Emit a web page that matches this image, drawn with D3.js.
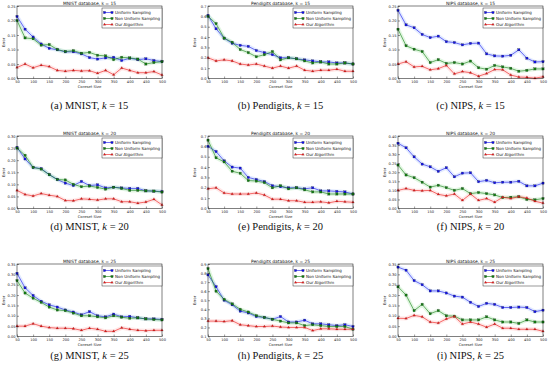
<!DOCTYPE html>
<html>
<head>
<meta charset="utf-8">
<script src="https://cdn.jsdelivr.net/npm/d3@7"></script>
<style>
  html, body { margin: 0; padding: 0; background: #fff; }
  svg { display: block; }
</style>
</head>
<body>
<svg id="chart" width="550" height="371"></svg>
<script>
// coreset sizes on the x axis
const coresetSizes = [50, 75, 100, 125, 150, 175, 200, 225, 250, 275, 300, 325, 350, 375, 400, 425, 450, 475, 500];
const xTicks = [50, 100, 150, 200, 250, 300, 350, 400, 450, 500];
const seriesNames = ["Uniform Sampling", "Non Uniform Sampling", "Our Algorithm"];

// MNIST
const mnist15Uniform = [0.214, 0.170, 0.143, 0.119, 0.104, 0.099, 0.092, 0.092, 0.085, 0.072, 0.067, 0.071, 0.073, 0.062, 0.070, 0.065, 0.068, 0.062, 0.058];
const mnist15NonUniform = [0.200, 0.140, 0.137, 0.115, 0.117, 0.100, 0.093, 0.096, 0.087, 0.090, 0.080, 0.078, 0.065, 0.073, 0.071, 0.067, 0.050, 0.055, 0.058];
const mnist15Ours = [0.038, 0.050, 0.037, 0.046, 0.041, 0.028, 0.025, 0.028, 0.026, 0.027, 0.018, 0.028, 0.013, 0.036, 0.028, 0.020, 0.020, 0.024, 0.012];

const mnist20Uniform = [0.253, 0.205, 0.170, 0.165, 0.140, 0.120, 0.105, 0.095, 0.112, 0.095, 0.098, 0.085, 0.088, 0.085, 0.083, 0.083, 0.073, 0.072, 0.070];
const mnist20NonUniform = [0.250, 0.220, 0.170, 0.163, 0.140, 0.120, 0.118, 0.100, 0.090, 0.093, 0.087, 0.080, 0.088, 0.083, 0.075, 0.075, 0.073, 0.072, 0.068];
const mnist20Ours = [0.075, 0.058, 0.052, 0.062, 0.055, 0.050, 0.033, 0.032, 0.040, 0.038, 0.035, 0.040, 0.040, 0.028, 0.028, 0.022, 0.027, 0.038, 0.015];

const mnist25Uniform = [0.305, 0.235, 0.198, 0.170, 0.153, 0.142, 0.128, 0.118, 0.105, 0.120, 0.100, 0.095, 0.108, 0.095, 0.097, 0.090, 0.085, 0.085, 0.082];
const mnist25NonUniform = [0.270, 0.210, 0.185, 0.165, 0.142, 0.128, 0.125, 0.113, 0.100, 0.100, 0.095, 0.090, 0.100, 0.093, 0.088, 0.090, 0.085, 0.082, 0.080];
const mnist25Ours = [0.050, 0.050, 0.062, 0.050, 0.043, 0.040, 0.040, 0.038, 0.030, 0.040, 0.035, 0.025, 0.025, 0.042, 0.035, 0.030, 0.028, 0.030, 0.030];

// Pendigits
const pen15Uniform = [0.61, 0.48, 0.39, 0.34, 0.32, 0.31, 0.27, 0.25, 0.23, 0.20, 0.20, 0.19, 0.18, 0.17, 0.16, 0.16, 0.15, 0.15, 0.14];
const pen15NonUniform = [0.60, 0.53, 0.39, 0.35, 0.28, 0.25, 0.21, 0.23, 0.26, 0.18, 0.20, 0.19, 0.17, 0.15, 0.16, 0.14, 0.14, 0.15, 0.14];
const pen15Ours = [0.20, 0.17, 0.18, 0.17, 0.14, 0.13, 0.14, 0.12, 0.10, 0.12, 0.10, 0.12, 0.08, 0.07, 0.08, 0.08, 0.09, 0.07, 0.07];

const pen20Uniform = [0.60, 0.55, 0.46, 0.40, 0.39, 0.30, 0.28, 0.26, 0.22, 0.21, 0.20, 0.20, 0.19, 0.20, 0.17, 0.17, 0.165, 0.16, 0.14];
const pen20NonUniform = [0.66, 0.49, 0.45, 0.36, 0.34, 0.27, 0.265, 0.25, 0.20, 0.22, 0.19, 0.20, 0.18, 0.16, 0.16, 0.14, 0.14, 0.14, 0.14];
const pen20Ours = [0.19, 0.20, 0.15, 0.14, 0.14, 0.14, 0.15, 0.13, 0.09, 0.09, 0.075, 0.075, 0.06, 0.06, 0.065, 0.055, 0.07, 0.065, 0.06];

const pen25Uniform = [0.78, 0.65, 0.50, 0.45, 0.38, 0.36, 0.32, 0.31, 0.29, 0.32, 0.26, 0.26, 0.28, 0.24, 0.24, 0.23, 0.22, 0.23, 0.21];
const pen25NonUniform = [0.85, 0.60, 0.51, 0.46, 0.40, 0.37, 0.33, 0.31, 0.29, 0.27, 0.25, 0.25, 0.22, 0.23, 0.22, 0.21, 0.21, 0.21, 0.18];
const pen25Ours = [0.27, 0.27, 0.265, 0.275, 0.23, 0.22, 0.21, 0.21, 0.215, 0.205, 0.20, 0.20, 0.20, 0.165, 0.185, 0.185, 0.18, 0.18, 0.18];

// NIPS
const nips15Uniform = [0.235, 0.185, 0.175, 0.152, 0.141, 0.146, 0.127, 0.124, 0.116, 0.121, 0.122, 0.085, 0.078, 0.077, 0.080, 0.099, 0.070, 0.057, 0.058];
const nips15NonUniform = [0.170, 0.113, 0.101, 0.093, 0.055, 0.065, 0.052, 0.055, 0.050, 0.060, 0.037, 0.032, 0.045, 0.040, 0.035, 0.025, 0.028, 0.033, 0.033];
const nips15Ours = [0.050, 0.058, 0.040, 0.042, 0.030, 0.034, 0.045, 0.016, 0.024, 0.020, 0.008, 0.017, 0.031, 0.030, 0.012, 0.005, 0.004, 0.001, 0.006];

const nips20Uniform = [0.360, 0.335, 0.285, 0.245, 0.230, 0.205, 0.225, 0.175, 0.195, 0.197, 0.148, 0.155, 0.142, 0.145, 0.145, 0.150, 0.125, 0.125, 0.140];
const nips20NonUniform = [0.240, 0.185, 0.170, 0.145, 0.118, 0.128, 0.115, 0.100, 0.110, 0.082, 0.088, 0.082, 0.075, 0.060, 0.062, 0.065, 0.050, 0.048, 0.055];
const nips20Ours = [0.100, 0.110, 0.100, 0.098, 0.100, 0.078, 0.070, 0.080, 0.045, 0.080, 0.045, 0.055, 0.035, 0.062, 0.055, 0.065, 0.058, 0.040, 0.030];

const nips25Uniform = [0.335, 0.320, 0.270, 0.250, 0.220, 0.220, 0.210, 0.195, 0.190, 0.165, 0.145, 0.160, 0.155, 0.140, 0.140, 0.142, 0.140, 0.120, 0.127];
const nips25NonUniform = [0.240, 0.200, 0.125, 0.155, 0.110, 0.125, 0.100, 0.098, 0.080, 0.080, 0.080, 0.095, 0.080, 0.070, 0.070, 0.063, 0.080, 0.070, 0.070];
const nips25Ours = [0.088, 0.087, 0.102, 0.095, 0.070, 0.065, 0.085, 0.097, 0.060, 0.070, 0.060, 0.045, 0.060, 0.040, 0.040, 0.035, 0.035, 0.035, 0.025];

// y axis settings per panel
const yTicks005to25 = [0, 0.05, 0.10, 0.15, 0.20, 0.25];
const yTicks005to30 = [0, 0.05, 0.10, 0.15, 0.20, 0.25, 0.30];
const yTicks005to35 = [0, 0.05, 0.10, 0.15, 0.20, 0.25, 0.30, 0.35];
const yTicks005to40 = [0, 0.05, 0.10, 0.15, 0.20, 0.25, 0.30, 0.35, 0.40];
const yTicks01to07 = [0, 0.1, 0.2, 0.3, 0.4, 0.5, 0.6, 0.7];
const yTicks01to09 = [0.1, 0.2, 0.3, 0.4, 0.5, 0.6, 0.7, 0.8, 0.9];

const panels = [
  { tag: "a", db: "MNIST", k: 15, ticks: yTicks005to25, fmt: ".2f", series: [mnist15Uniform, mnist15NonUniform, mnist15Ours] },
  { tag: "b", db: "Pendigits", k: 15, ticks: yTicks01to07, fmt: ".1f", series: [pen15Uniform, pen15NonUniform, pen15Ours] },
  { tag: "c", db: "NIPS", k: 15, ticks: yTicks005to25, fmt: ".2f", series: [nips15Uniform, nips15NonUniform, nips15Ours] },
  { tag: "d", db: "MNIST", k: 20, ticks: yTicks005to30, fmt: ".2f", series: [mnist20Uniform, mnist20NonUniform, mnist20Ours] },
  { tag: "e", db: "Pendigits", k: 20, ticks: yTicks01to07, fmt: ".1f", series: [pen20Uniform, pen20NonUniform, pen20Ours] },
  { tag: "f", db: "NIPS", k: 20, ticks: yTicks005to40, fmt: ".2f", series: [nips20Uniform, nips20NonUniform, nips20Ours] },
  { tag: "g", db: "MNIST", k: 25, ticks: yTicks005to35, fmt: ".2f", series: [mnist25Uniform, mnist25NonUniform, mnist25Ours] },
  { tag: "h", db: "Pendigits", k: 25, ticks: yTicks01to09, fmt: ".1f", series: [pen25Uniform, pen25NonUniform, pen25Ours] },
  { tag: "i", db: "NIPS", k: 25, ticks: yTicks005to35, fmt: ".2f", series: [nips25Uniform, nips25NonUniform, nips25Ours] }
];

// layout of the 3x3 grid
const colLeft = [17, 208, 398];
const rowTop = [6, 136, 264];
const plotW = 145;
const plotH = 72.5;
const captionY = [108.5, 230, 358.5];

const colors = ["#1010ee", "#108010", "#ee1010"];
const bandColors = ["#9fb8ff", "#9fe09f", "#ffb3b3"];
const font = "'DejaVu Sans', sans-serif";

const svg = d3.select("#chart");

panels.forEach((p, i) => {
  const col = i % 3, row = Math.floor(i / 3);
  const g = svg.append("g").attr("transform", `translate(${colLeft[col]},${rowTop[row]})`);

  const x = d3.scaleLinear().domain([50, 500]).range([0, plotW]);
  const y = d3.scaleLinear().domain([p.ticks[0], p.ticks[p.ticks.length - 1]]).range([plotH, 0]);

  const line = d3.line().x((d, j) => x(coresetSizes[j])).y(d => y(d));

  // faint bands behind the lines
  p.series.forEach((s, si) => {
    g.append("path")
      .attr("d", line(s))
      .attr("fill", "none")
      .attr("stroke", bandColors[si])
      .attr("stroke-opacity", 0.3)
      .attr("stroke-width", 4)
      .attr("stroke-linejoin", "round");
  });

  // lines + markers
  p.series.forEach((s, si) => {
    g.append("path")
      .attr("d", line(s))
      .attr("fill", "none")
      .attr("stroke", colors[si])
      .attr("stroke-width", 0.6);

    const m = g.selectAll(null).data(s).enter();
    if (si < 2) {
      m.append("rect")
        .attr("x", (d, j) => x(coresetSizes[j]) - 1.1)
        .attr("y", d => y(d) - 1.1)
        .attr("width", 2.2).attr("height", 2.2)
        .attr("fill", colors[si])
        .attr("stroke", "#222").attr("stroke-width", 0.25);
    } else {
      m.append("path")
        .attr("d", d3.symbol().type(d3.symbolTriangle).size(3))
        .attr("transform", (d, j) => `translate(${x(coresetSizes[j])},${y(d)})`)
        .attr("fill", colors[si])
        .attr("stroke", "#444").attr("stroke-width", 0.2);
    }
  });

  // frame
  g.append("rect")
    .attr("width", plotW).attr("height", plotH)
    .attr("fill", "none").attr("stroke", "#000").attr("stroke-width", 0.5);

  // axes (ticks inside, like classic matplotlib)
  const xAxis = g.append("g").attr("transform", `translate(0,${plotH})`)
    .call(d3.axisBottom(x).tickValues(xTicks).tickSize(-2).tickPadding(1.5));
  const yAxis = g.append("g")
    .call(d3.axisLeft(y).tickValues(p.ticks).tickFormat(d3.format(p.fmt)).tickSize(-2).tickPadding(1.5));
  [xAxis, yAxis].forEach(a => {
    a.select(".domain").remove();
    a.selectAll("line").attr("stroke", "#000").attr("stroke-width", 0.4);
    a.selectAll("text").attr("font-size", 3.6).attr("font-family", font).attr("fill", "#222");
  });

  // title and axis labels
  g.append("text")
    .attr("x", plotW / 2).attr("y", -1.2)
    .attr("text-anchor", "middle")
    .attr("font-size", 4.4).attr("font-family", font).attr("fill", "#111")
    .text(`${p.db} database, k = ${p.k}`);

  g.append("text")
    .attr("x", plotW / 2).attr("y", plotH + 9.5)
    .attr("text-anchor", "middle")
    .attr("font-size", 3.8).attr("font-family", font).attr("fill", "#222")
    .text("Coreset Size");

  g.append("text")
    .attr("transform", `translate(-12.5,${plotH / 2}) rotate(-90)`)
    .attr("text-anchor", "middle")
    .attr("font-size", 3.8).attr("font-family", font).attr("fill", "#222")
    .text("Error");

  // legend, top right inside the plot
  const lw = 60, lh = 20;
  const leg = g.append("g").attr("transform", `translate(${plotW - lw},2)`);
  leg.append("rect")
    .attr("width", lw).attr("height", lh)
    .attr("fill", "#fff").attr("stroke", "#000").attr("stroke-width", 0.4);
  seriesNames.forEach((name, si) => {
    const ly = 4.5 + si * 6;
    leg.append("line")
      .attr("x1", 2.5).attr("x2", 10).attr("y1", ly).attr("y2", ly)
      .attr("stroke", colors[si]).attr("stroke-width", 0.6);
    [2.5, 10].forEach(mx => {
      if (si < 2) {
        leg.append("rect")
          .attr("x", mx - 1.1).attr("y", ly - 1.1).attr("width", 2.2).attr("height", 2.2)
          .attr("fill", colors[si]).attr("stroke", "#222").attr("stroke-width", 0.25);
      } else {
        leg.append("path")
          .attr("d", d3.symbol().type(d3.symbolTriangle).size(3))
          .attr("transform", `translate(${mx},${ly})`)
          .attr("fill", colors[si]).attr("stroke", "#444").attr("stroke-width", 0.2);
      }
    });
    leg.append("text")
      .attr("x", 13).attr("y", ly + 1.4)
      .attr("font-size", 4).attr("font-family", font).attr("fill", "#111")
      .text(name);
  });

  // caption under the panel
  const cap = svg.append("text")
    .attr("x", colLeft[col] + plotW / 2).attr("y", captionY[row])
    .attr("text-anchor", "middle")
    .attr("font-size", 10.5).attr("font-family", "'Liberation Serif', 'DejaVu Serif', serif")
    .attr("fill", "#111");
  cap.append("tspan").text(`(${p.tag}) ${p.db}, `);
  cap.append("tspan").attr("font-style", "italic").text("k");
  cap.append("tspan").text(` = ${p.k}`);
});
</script>
</body>
</html>
